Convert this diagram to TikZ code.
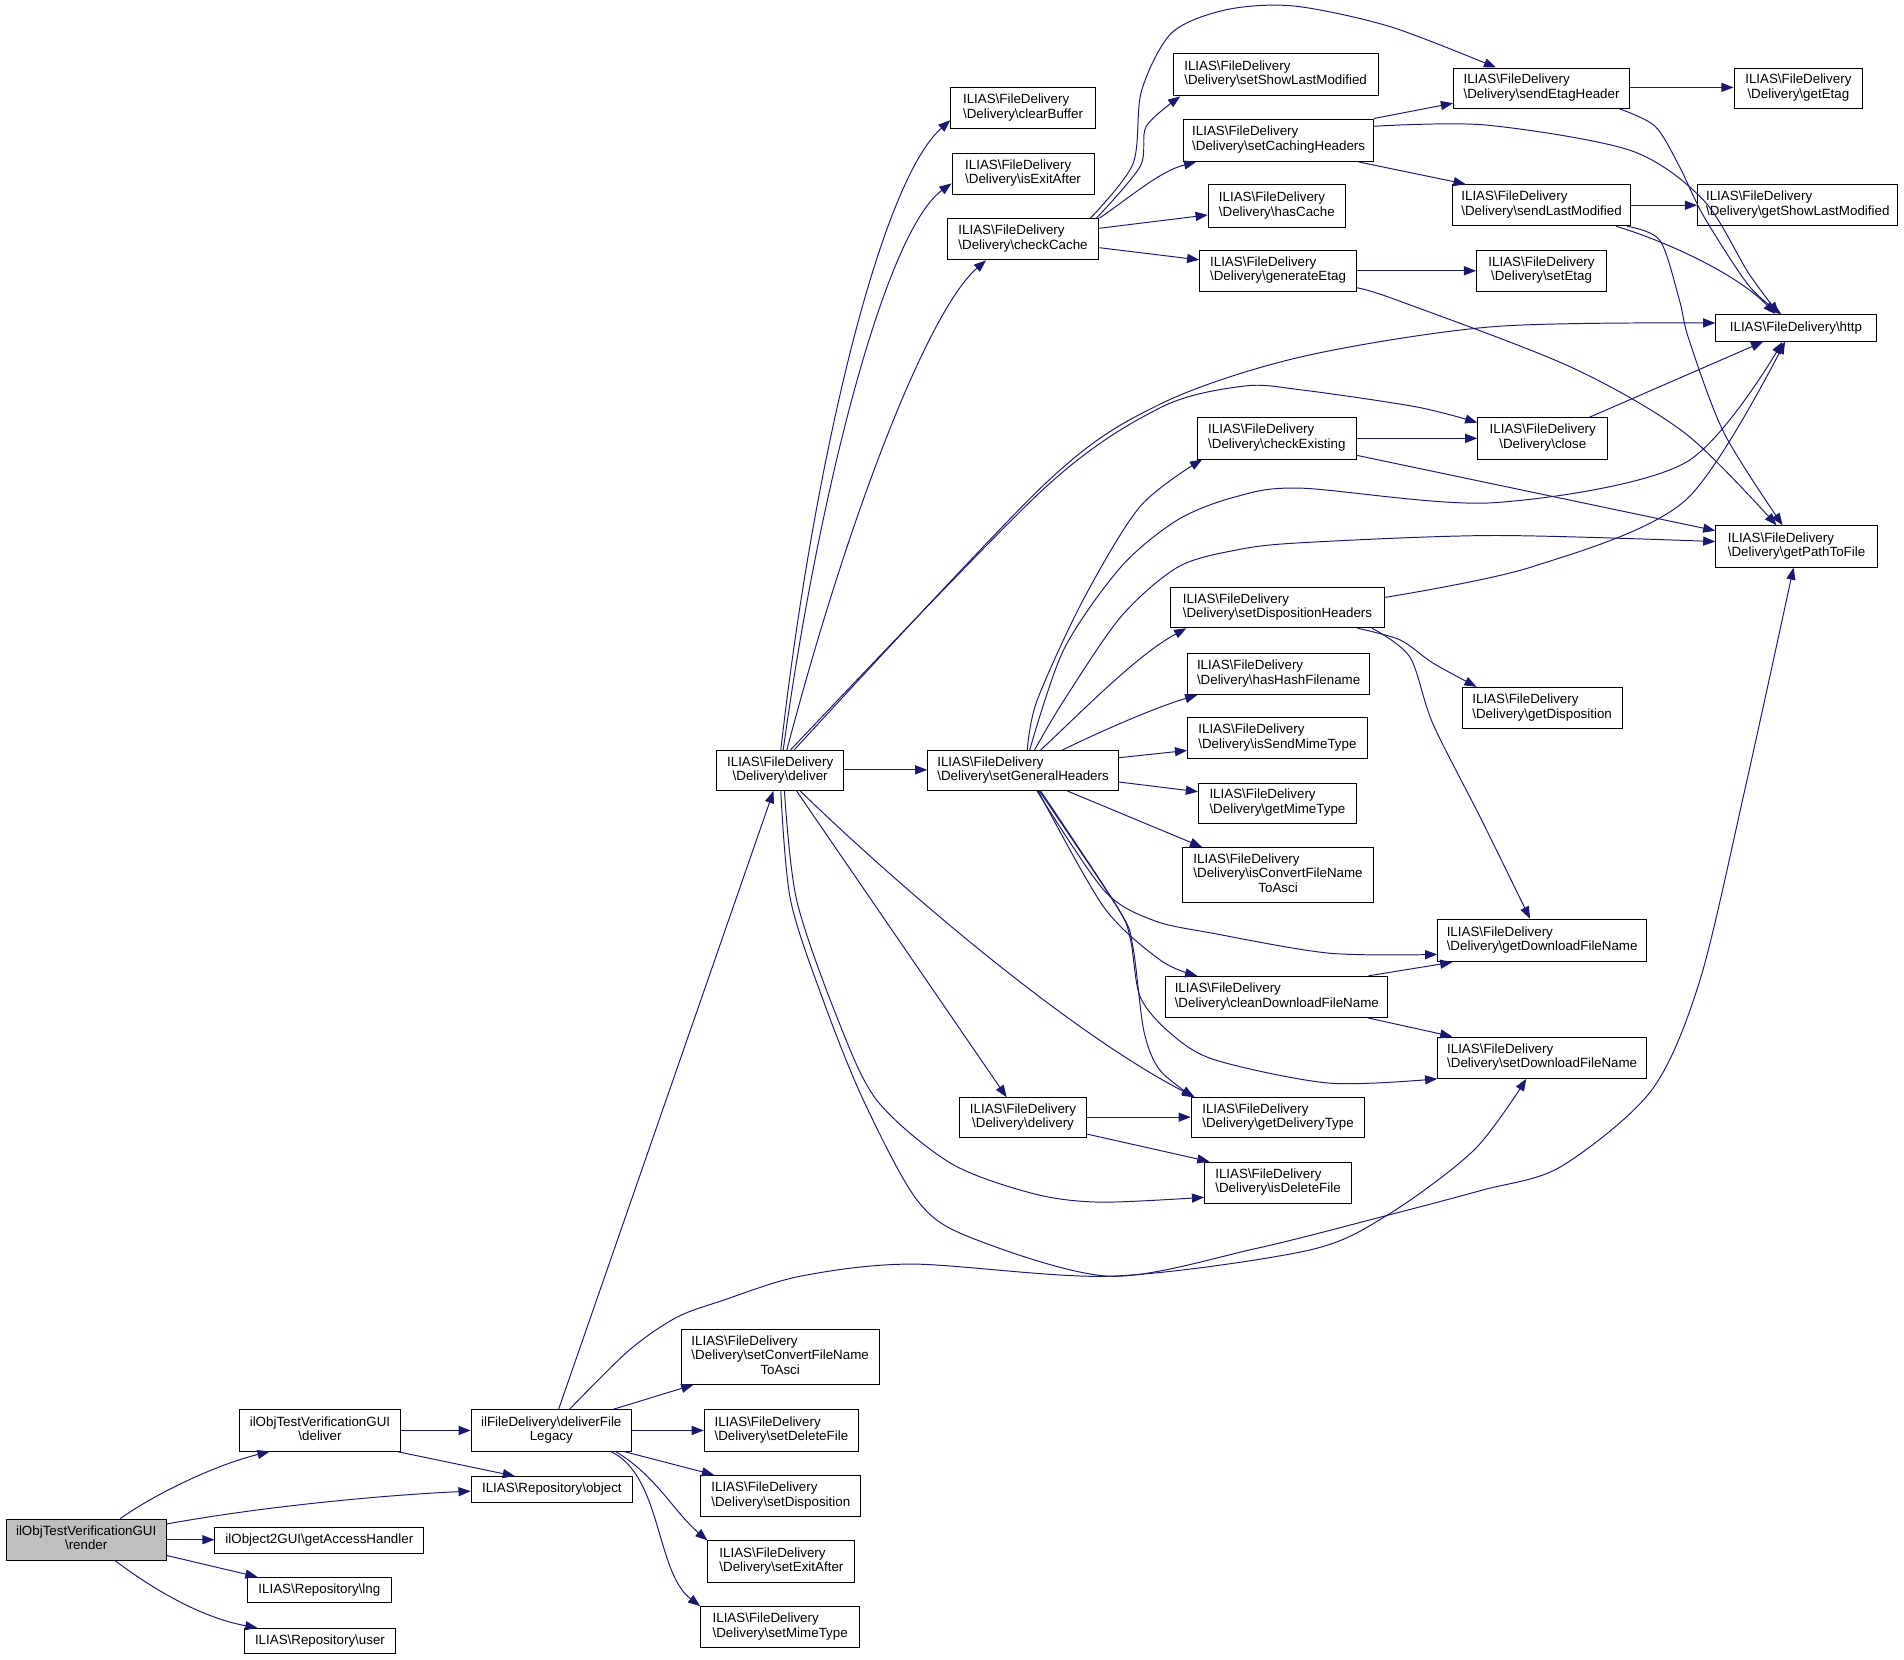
\documentclass[tikz,border=0pt]{standalone}
\usepackage{fontspec}
\setmainfont{Liberation Sans}
\usetikzlibrary{arrows.meta}
\definecolor{edgeblue}{HTML}{191970}
\definecolor{curgray}{HTML}{BFBFBF}
\newcommand{\bksl}{\textbackslash}
\newcommand{\twol}[2]{\begin{tabular}{@{}l@{}}#1\\\multicolumn{1}{@{}c@{}}{#2}\end{tabular}}
\newcommand{\threel}[3]{\begin{tabular}{@{}l@{}}#1\\#2\\\multicolumn{1}{@{}c@{}}{#3}\end{tabular}}
\newcommand{\fdl}[1]{\twol{ILIAS\bksl FileDelivery}{\bksl Delivery\bksl #1}}
\newcommand{\mknode}[7][]{%
  \pgfmathsetmacro{\ndcx}{(#3+#5)/2}%
  \pgfmathsetmacro{\ndcy}{(#4+#6)/2}%
  \pgfmathsetmacro{\ndw}{#5-#3}%
  \pgfmathsetmacro{\ndh}{#6-#4}%
  \node[fn,minimum width=\ndw pt,minimum height=\ndh pt,#1] (#2) at (\ndcx,\ndcy) {#7};}
\tikzset{
  fn/.style={rectangle,draw=black,fill=white,line width=0.8pt,inner sep=0pt,
    font=\fontsize{11}{12}\selectfont},
  cur/.style={fill=curgray},
  e/.style={draw=edgeblue,line width=0.8pt,-{Triangle[length=10pt,width=7.5pt]}},
}
\begin{document}
\begin{tikzpicture}[x=1pt,y=-1pt]
\fill[white] (0,0) rectangle (1568,1367);
\useasboundingbox (0,0) rectangle (1568,1367);

% nodes
\mknode[cur]{render}{5}{1251}{137}{1285}{\twol{ilObjTestVerificationGUI}{\bksl render}}
\mknode{deliverGUI}{197}{1161}{330}{1195}{\twol{ilObjTestVerificationGUI}{\bksl deliver}}
\mknode{getAccessHandler}{177}{1258}{349}{1279}{ilObject2GUI\bksl getAccessHandler}
\mknode{lng}{204}{1299}{322}{1320}{ILIAS\bksl Repository\bksl lng}
\mknode{user}{201}{1341}{326}{1362}{ILIAS\bksl Repository\bksl user}
\mknode{deliverFileLegacy}{388}{1161}{520}{1195}{\twol{ilFileDelivery\bksl deliverFile}{Legacy}}
\mknode{object}{388}{1216}{521}{1237}{ILIAS\bksl Repository\bksl object}
\mknode{setConvertFileNameToAsci}{561}{1095}{724}{1140}{\threel{ILIAS\bksl FileDelivery}{\bksl Delivery\bksl setConvertFileName}{ToAsci}}
\mknode{setDeleteFile}{580}{1161}{707}{1195}{\fdl{setDeleteFile}}
\mknode{setDisposition}{577}{1215}{709}{1249}{\fdl{setDisposition}}
\mknode{setExitAfter}{583}{1269}{704}{1303}{\fdl{setExitAfter}}
\mknode{setMimeType}{577}{1323}{708}{1357}{\fdl{setMimeType}}
\mknode{deliver}{590}{618}{695}{651}{\fdl{deliver}}
\mknode{setGeneralHeaders}{764}{618}{921}{651}{\fdl{setGeneralHeaders}}
\mknode{clearBuffer}{783}{72}{902}{106}{\fdl{clearBuffer}}
\mknode{isExitAfter}{784}{126}{901}{160}{\fdl{isExitAfter}}
\mknode{checkCache}{780}{180}{905}{214}{\fdl{checkCache}}
\mknode{setShowLastModified}{966}{44}{1135}{79}{\fdl{setShowLastModified}}
\mknode{setCachingHeaders}{975}{98}{1131}{133}{\fdl{setCachingHeaders}}
\mknode{hasCache}{995}{152}{1108}{187}{\fdl{hasCache}}
\mknode{generateEtag}{988}{206}{1117}{240}{\fdl{generateEtag}}
\mknode{sendEtagHeader}{1197}{56}{1342}{89}{\fdl{sendEtagHeader}}
\mknode{getEtag}{1428}{56}{1534}{89}{\fdl{getEtag}}
\mknode{sendLastModified}{1196}{152}{1343}{186}{\fdl{sendLastModified}}
\mknode{getShowLastModified}{1398}{152}{1563}{186}{\fdl{getShowLastModified}}
\mknode{setEtag}{1216}{206}{1323}{240}{\fdl{setEtag}}
\mknode{http}{1413}{259}{1545}{281}{ILIAS\bksl FileDelivery\bksl http}
\mknode{close}{1217}{344}{1324}{378}{\fdl{close}}
\mknode{checkExisting}{986}{344}{1117}{378}{\fdl{checkExisting}}
\mknode{getPathToFile}{1413}{433}{1546}{467}{\fdl{getPathToFile}}
\mknode{setDispositionHeaders}{964}{484}{1140}{517}{\fdl{setDispositionHeaders}}
\mknode{hasHashFilename}{978}{538}{1128}{572}{\fdl{hasHashFilename}}
\mknode{getDisposition}{1204}{566}{1336}{600}{\fdl{getDisposition}}
\mknode{isSendMimeType}{978}{591}{1126}{625}{\fdl{isSendMimeType}}
\mknode{getMimeType}{987}{645}{1117}{678}{\fdl{getMimeType}}
\mknode{isConvertFileNameToAsci}{974}{698}{1131}{743}{\threel{ILIAS\bksl FileDelivery}{\bksl Delivery\bksl isConvertFileName}{ToAsci}}
\mknode{getDownloadFileName}{1184}{757}{1356}{792}{\fdl{getDownloadFileName}}
\mknode{cleanDownloadFileName}{960}{804}{1143}{838}{\fdl{cleanDownloadFileName}}
\mknode{setDownloadFileName}{1184}{854}{1356}{888}{\fdl{setDownloadFileName}}
\mknode{delivery}{790}{904}{895}{937}{\fdl{delivery}}
\mknode{getDeliveryType}{981}{904}{1124}{937}{\fdl{getDeliveryType}}
\mknode{isDeleteFile}{992}{957}{1113}{991}{\fdl{isDeleteFile}}

% render
\draw[e] (render.north -| 99,0) .. controls (125,1232) and (175,1207) .. (deliverGUI.south -| 222,0);
\draw[e] (render.east |- 0,1255) .. controls (220,1240) and (320,1231) .. (object.west |- 0,1228);
\draw[e] (render.east |- 0,1268) -- (getAccessHandler.west |- 0,1268);
\draw[e] (render.east |- 0,1281) -- (lng.north -| 212,0);
\draw[e] (render.south -| 95,0) .. controls (125,1308) and (165,1332) .. (user.north -| 212,0);
% deliverGUI
\draw[e] (deliverGUI.east |- 0,1178) -- (deliverFileLegacy.west |- 0,1178);
\draw[e] (deliverGUI.south -| 327,0) -- (object.north -| 424,0);
% deliverFileLegacy
\draw[e] (deliverFileLegacy.north -| 460,0) -- (deliver.south -| 637,0);
\draw[e] plot[smooth] coordinates {(deliverFileLegacy.north -| 469,0) (518,1112) (557,1085) (595,1071) (659,1051) (751,1041) (914,1051) (1076,1030) (1142,1001) (1214,947) (setDownloadFileName.south -| 1257,0)};
\draw[e] (deliverFileLegacy.north -| 505,0) -- (setConvertFileNameToAsci.south -| 571,0);
\draw[e] (deliverFileLegacy.east |- 0,1178) -- (setDeleteFile.west |- 0,1178);
\draw[e] (deliverFileLegacy.south -| 514,0) -- (setDisposition.north -| 588,0);
\draw[e] (deliverFileLegacy.south -| 507,0) .. controls (540,1215) and (555,1245) .. (setExitAfter.north west);
\draw[e] (deliverFileLegacy.south -| 503,0) .. controls (545,1215) and (540,1295) .. (setMimeType.north west);
% deliver
\draw[e] (deliver.north -| 643,0) .. controls (670,380) and (725,150) .. (clearBuffer.west |- 0,99);
\draw[e] (deliver.north -| 645,0) .. controls (675,400) and (730,190) .. (isExitAfter.west |- 0,151);
\draw[e] (deliver.north -| 648,0) .. controls (700,420) and (765,255) .. (checkCache.south -| 812,0);
\draw[e] (deliver.east |- 0,634) -- (setGeneralHeaders.west |- 0,634);
\draw[e] plot[smooth] coordinates {(deliver.north -| 654,0) (860,399) (955,333) (1071,294) (1230,269) (http.west |- 0,266)};
\draw[e] plot[smooth] coordinates {(deliver.north -| 651,0) (858,404) (955,336) (1024,318) (1071,321) (1166,335) (close.west |- 0,348)};
\draw[e] (deliver.south -| 656,0) -- (delivery.north -| 829,0);
\draw[e] (deliver.south -| 659,0) .. controls (740,730) and (880,850) .. (getDeliveryType.north -| 984,0);
\draw[e] plot[smooth] coordinates {(deliver.south -| 646,0) (656,741) (689,837) (722,906) (783,958) (851,983) (906,990) (isDeleteFile.west |- 0,986)};
\draw[e] plot[smooth] coordinates {(deliver.south -| 643,0) (651,741) (678,824) (711,906) (755,988) (799,1019) (914,1051) (1035,1028) (1142,1001) (1221,980) (1285,961) (1360,898) (1400,807) (1437,650) (getPathToFile.south -| 1477,0)};
% setGeneralHeaders
\draw[e] plot[smooth] coordinates {(setGeneralHeaders.north -| 846,0) (854,577) (892,494) (939,417) (checkExisting.south -| 990,0)};
\draw[e] plot[smooth] coordinates {(setGeneralHeaders.north -| 848,0) (876,535) (923,467) (970,428) (1018,409) (1071,402) (1230,414) (1388,381) (http.south -| 1468,0)};
\draw[e] plot[smooth] coordinates {(setGeneralHeaders.north -| 852,0) (876,577) (923,508) (970,467) (1018,453) (1071,447) (1230,441) (getPathToFile.west |- 0,446)};
\draw[e] (setGeneralHeaders.north -| 857,0) .. controls (885,592) and (935,540) .. (setDispositionHeaders.south -| 977,0);
\draw[e] (setGeneralHeaders.north -| 875,0) .. controls (905,603) and (950,583) .. (hasHashFilename.south -| 986,0);
\draw[e] (setGeneralHeaders.east |- 0,624) -- (isSendMimeType.west |- 0,618);
\draw[e] (setGeneralHeaders.east |- 0,644) -- (getMimeType.west |- 0,652);
\draw[e] (setGeneralHeaders.south -| 879,0) -- (isConvertFileNameToAsci.north -| 990,0);
\draw[e] plot[smooth] coordinates {(setGeneralHeaders.south -| 854,0) (909,733) (950,758) (1001,769) (1095,785) (getDownloadFileName.west |- 0,786)};
\draw[e] plot[smooth] coordinates {(setGeneralHeaders.south -| 855,0) (909,747) (956,791) (cleanDownloadFileName.north -| 986,0)};
\draw[e] plot[smooth] coordinates {(setGeneralHeaders.south -| 856,0) (920,747) (931,774) (939,821) (964,851) (1001,873) (1095,892) (setDownloadFileName.south west)};
\draw[e] plot[smooth] coordinates {(setGeneralHeaders.south -| 857,0) (922,750) (933,780) (942,849) (955,881) (getDeliveryType.north -| 983,0)};
% checkCache
\draw[e] plot[smooth] coordinates {(checkCache.north -| 903,0) (939,137) (944,104) (setShowLastModified.south -| 972,0)};
\draw[e] plot[smooth] coordinates {(checkCache.north -| 898,0) (933,135) (940,75) (965,27) (1010,8) (1066,5) (1145,22) (sendEtagHeader.north -| 1232,0)};
\draw[e] (checkCache.north east) .. controls (930,163) and (955,141) .. (setCachingHeaders.south -| 985,0);
\draw[e] (checkCache.east |- 0,188) -- (hasCache.west |- 0,177);
\draw[e] (checkCache.east |- 0,204) -- (generateEtag.west |- 0,214);
% setCachingHeaders
\draw[e] (setCachingHeaders.north east) -- (sendEtagHeader.west |- 0,85);
\draw[e] plot[smooth] coordinates {(setCachingHeaders.east |- 0,104) (1224,103) (1343,124) (1403,165) (1440,225) (http.north -| 1465,0)};
\draw[e] (setCachingHeaders.south -| 1119,0) -- (sendLastModified.north -| 1207,0);
% sendEtagHeader
\draw[e] (sendEtagHeader.east |- 0,72) -- (getEtag.west |- 0,72);
\draw[e] plot[smooth] coordinates {(sendEtagHeader.south -| 1333,0) (1363,104) (1383,137) (1403,178) (1440,235) (http.north -| 1467,0)};
% sendLastModified
\draw[e] (sendLastModified.east |- 0,169) -- (getShowLastModified.west |- 0,169);
\draw[e] (sendLastModified.south -| 1331,0) .. controls (1370,198) and (1430,225) .. (http.north -| 1462,0);
\draw[e] plot[smooth] coordinates {(sendLastModified.south -| 1340,0) (1367,198) (1383,247) (1391,280) (1420,357) (getPathToFile.north -| 1468,0)};
% generateEtag
\draw[e] (generateEtag.east |- 0,223) -- (setEtag.west |- 0,223);
\draw[e] plot[smooth] coordinates {(generateEtag.east |- 0,237) (1150,247) (1293,302) (1388,357) (getPathToFile.north -| 1463,0)};
% close
\draw[e] (close.north -| 1309,0) -- (http.south -| 1452,0);
% checkExisting
\draw[e] (checkExisting.east |- 0,361) -- (close.west |- 0,361);
\draw[e] (checkExisting.east |- 0,375) -- (getPathToFile.west |- 0,437);
% setDispositionHeaders
\draw[e] plot[smooth] coordinates {(setDispositionHeaders.east |- 0,492) (1261,467) (1388,412) (http.south -| 1470,0)};
\draw[e] plot[smooth] coordinates {(setDispositionHeaders.south -| 1118,0) (1153,527) (1180,546) (getDisposition.north -| 1216,0)};
\draw[e] plot[smooth] coordinates {(setDispositionHeaders.south -| 1130,0) (1161,541) (1180,596) (1220,675) (getDownloadFileName.north -| 1260,0)};
% cleanDownloadFileName
\draw[e] (cleanDownloadFileName.north -| 1127,0) -- (getDownloadFileName.south -| 1196,0);
\draw[e] (cleanDownloadFileName.south -| 1127,0) -- (setDownloadFileName.north -| 1196,0);
% delivery
\draw[e] (delivery.east |- 0,920) -- (getDeliveryType.west |- 0,920);
\draw[e] (delivery.east |- 0,934) -- (isDeleteFile.north -| 996,0);
\end{tikzpicture}
\end{document}
